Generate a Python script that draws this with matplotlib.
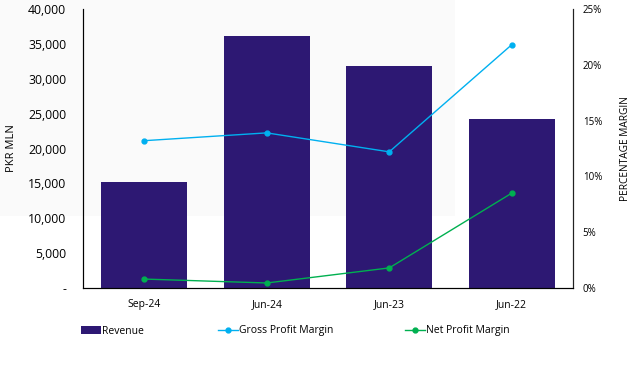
import matplotlib
matplotlib.use("Agg")
import matplotlib.pyplot as plt
from matplotlib.patches import Rectangle
from matplotlib.ticker import FuncFormatter, MultipleLocator

categories = ["Sep-24", "Jun-24", "Jun-23", "Jun-22"]
revenue = [15200, 36150, 31850, 24250]
gross_margin = [13.2, 13.9, 12.2, 21.8]
net_margin = [0.8, 0.45, 1.8, 8.5]

plt.rcParams['font.family'] = ['Open Sans', 'DejaVu Sans']

fig = plt.figure(figsize=(6.4, 3.69), dpi=100)
fig.patch.set_facecolor('white')
fig.patches.append(Rectangle((0, 1 - 216/369), 455/640, 216/369, transform=fig.transFigure,
                             facecolor='#FAFAFA', edgecolor='none', zorder=-10))

ax = fig.add_axes([83/640, 1 - 288/369, 490/640, 279/369])
ax.set_facecolor('none')
x = list(range(len(categories)))
bars = ax.bar(x, revenue, width=0.7, color='#2D1873', label='Revenue', zorder=2)
ax.set_xlim(-0.5, 3.5)
ax.set_ylim(0, 40000)
ax.yaxis.set_major_locator(MultipleLocator(5000))
ax.yaxis.set_major_formatter(FuncFormatter(lambda v, p: '-' if v == 0 else f'{v:,.0f}'))
ax.set_xticks(x)
ax.set_xticklabels(categories)
ax.tick_params(axis='both', length=0, colors='black')
ax.tick_params(axis='x', pad=8, labelsize=7.5)
ax.tick_params(axis='y', pad=12, labelsize=8.8)
ax.spines['top'].set_visible(False)
for s in ['left', 'bottom', 'right']:
    ax.spines[s].set_color('#222222')
    ax.spines[s].set_linewidth(0.8)
ax.set_ylabel('PKR MLN', fontsize=8, va='center')
ax.yaxis.set_label_coords(-(83 - 12) / 490, 0.5)

ax2 = ax.twinx()
ax2.set_ylim(0, 25)
ax2.yaxis.set_major_locator(MultipleLocator(5))
ax2.yaxis.set_major_formatter(FuncFormatter(lambda v, p: f'{v:.0f}%'))
ax2.tick_params(axis='y', length=0, labelsize=7, pad=7)
ax2.spines['top'].set_visible(False)
ax2.spines['right'].set_color('#222222')
ax2.spines['right'].set_linewidth(0.8)
l1, = ax2.plot(x, gross_margin, color='#00B0F0', marker='o', markersize=3.5, linewidth=1,
               label='Gross Profit Margin', zorder=3)
l2, = ax2.plot(x, net_margin, color='#00B050', marker='o', markersize=3.5, linewidth=1,
               label='Net Profit Margin', zorder=3)
ax2.set_ylabel('PERCENTAGE MARGIN', fontsize=7.3, va='center')
ax2.yaxis.set_label_coords(1 + (625 - 573) / 490, 0.5)

handles = [bars, l1, l2]
labels = ['Revenue', 'Gross Profit Margin', 'Net Profit Margin']
starts = [81, 218, 405]
for h, lab, sx in zip(handles, labels, starts):
    fig.legend([h], [lab], loc='center left', bbox_to_anchor=(sx / 640, 1 - 331 / 369),
               frameon=False, fontsize=7.5, handlelength=1.9, handleheight=0.7,
               handletextpad=0.1, borderpad=0, borderaxespad=0)

fig.savefig('out.png', dpi=100)
